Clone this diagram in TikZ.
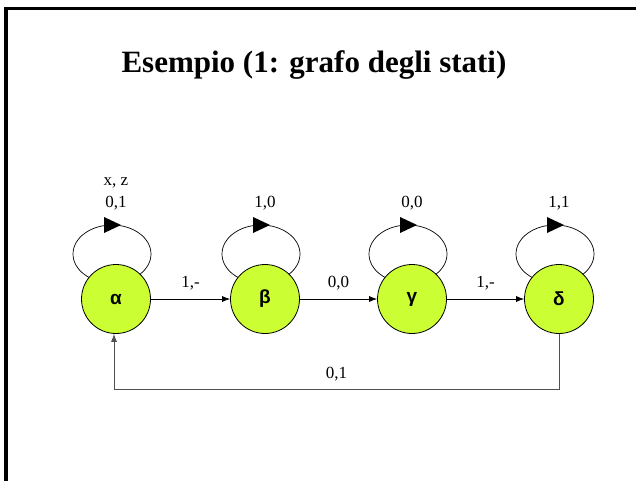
\documentclass[tikz,border=0pt]{standalone}
\usepackage{fontspec}
\setmainfont{Liberation Serif}
\newfontfamily\greekfont{Liberation Sans}
\usetikzlibrary{arrows.meta}
\begin{document}
\begin{tikzpicture}[x=1pt,y=-1pt,
  state/.style={circle,draw=black,line width=0.8pt,fill=statefill,
    minimum size=69pt,inner sep=0pt,font=\greekfont\fontsize{19}{19}\selectfont\bfseries},
  lbl/.style={font=\fontsize{17}{17}\selectfont,inner sep=0pt},
  trans/.style={-{Latex[length=8pt,width=6pt]},line width=0.7pt},
  loopline/.style={line width=0.7pt},
  looptip/.style={fill=black}]
\definecolor{statefill}{RGB}{204,255,51}
\definecolor{backline}{RGB}{80,80,80}
\useasboundingbox (0,0) rectangle (636,481);
\fill[white] (0,0) rectangle (636,481);

% frame edges
\draw[line width=3.5pt] (4,8.5) -- (636,8.5);
\draw[line width=3.5pt] (6,6.75) -- (6,481);

% title
\node[font=\fontsize{31}{31}\selectfont\bfseries] (title) at (314,65) {Esempio (1: grafo degli stati)};

% self-loops (drawn first, the states cover their lower halves)
\foreach \cx/\lab in {116/a,265/b,412/c,559/d}{
  \draw[loopline] (\cx-4,254) ellipse [x radius=39pt, y radius=29pt];
  \fill[looptip] (\cx-12,217) -- (\cx+5,225) -- (\cx-12,233) -- cycle;
}

% states
\node[state] (a) at (116,299) {α};
\node[state] (b) at (265,299) {β};
\node[state] (c) at (412,299) {γ};
\node[state] (d) at (559,299) {δ};

% loop labels
\node[lbl] (la1) at (116,183) {x, z};
\node[lbl] (la2) at (116,203) {0,1};
\node[lbl] (lb) at (265,203) {1,0};
\node[lbl] (lc) at (412,203) {0,0};
\node[lbl] (ld) at (559,203) {1,1};

% forward transitions
\draw[trans] (a) -- node[lbl,above=9pt] (tab) {1,-} (b);
\draw[trans] (b) -- node[lbl,above=9pt] (tbc) {0,0} (c);
\draw[trans] (c) -- node[lbl,above=9pt] (tcd) {1,-} (d);

% return transition
\coordinate (dd) at (559,389);
\coordinate (aa) at (114,389);
\draw[trans,draw=backline] (d.south) -- (dd) -- node[lbl,above=8pt,text=black] (tda) {0,1} (aa) -- (a.south -| aa);
\end{tikzpicture}
\end{document}
